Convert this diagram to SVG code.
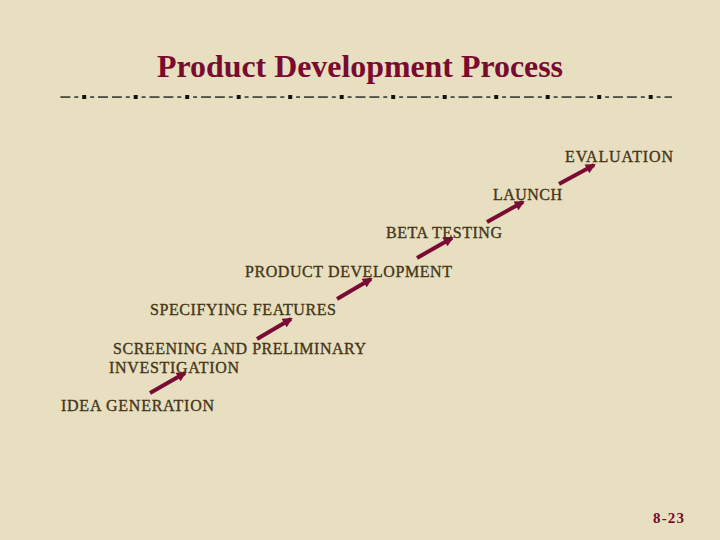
<svg xmlns="http://www.w3.org/2000/svg" width="720" height="540" viewBox="0 0 720 540">
<defs>
<style>
.bg{fill:#e7dfbf}
.title{font-family:"Liberation Serif","Times New Roman",serif;font-weight:bold;font-size:31px;fill:#7a0b30}
.lbl{font-family:"Liberation Serif","Times New Roman",serif;font-size:16px;fill:#45351a;stroke:#45351a;stroke-width:0.35}
.pg{font-family:"Liberation Serif","Times New Roman",serif;font-weight:bold;font-size:15px;fill:#7a0b30}
.arr{stroke:#7a0b35;stroke-width:4;fill:none;marker-end:url(#ah)}
</style>
<marker id="ah" viewBox="0 0 10 10" refX="8" refY="5" markerUnits="userSpaceOnUse" markerWidth="11" markerHeight="10" orient="auto">
<path d="M0,0 L10,5 L0,10 Z" fill="#7a0b35"/>
</marker>
<pattern id="rule" patternUnits="userSpaceOnUse" x="82.2" y="94" width="51.5" height="6">
<rect x="0" y="1" width="4" height="4" fill="#111"/>
<rect x="7.9" y="2.4" width="4" height="1.3" fill="#111"/>
<rect x="15.8" y="2.4" width="10" height="1.3" fill="#111"/>
<rect x="29.7" y="2.4" width="10" height="1.3" fill="#111"/>
<rect x="43.6" y="2.4" width="4" height="1.3" fill="#111"/>
</pattern>
</defs>
<rect class="bg" x="0" y="0" width="720" height="540"/>
<g id="title">
<text class="title" x="157" y="77" textLength="406" lengthAdjust="spacingAndGlyphs">Product Development Process</text>
<rect x="60" y="94" width="612" height="6" fill="url(#rule)"/>
</g>
<g id="connectors">
<line class="arr" x1="150" y1="393" x2="185" y2="373"/>
<line class="arr" x1="257" y1="339" x2="291" y2="319"/>
<line class="arr" x1="337" y1="299" x2="371" y2="279"/>
<line class="arr" x1="417" y1="258" x2="452" y2="238"/>
<line class="arr" x1="487" y1="222" x2="523" y2="202"/>
<line class="arr" x1="559" y1="184" x2="594" y2="165"/>
</g>
<g id="idea-generation"><text class="lbl" x="61" y="411" textLength="153">IDEA GENERATION</text></g>
<g id="screening">
<text class="lbl" x="113" y="354" textLength="253">SCREENING AND PRELIMINARY</text>
<text class="lbl" x="109" y="373" textLength="130">INVESTIGATION</text>
</g>
<g id="specifying-features"><text class="lbl" x="150" y="315" textLength="186">SPECIFYING FEATURES</text></g>
<g id="product-development"><text class="lbl" x="245" y="277" textLength="207">PRODUCT DEVELOPMENT</text></g>
<g id="beta-testing"><text class="lbl" x="386" y="238" textLength="116">BETA TESTING</text></g>
<g id="launch"><text class="lbl" x="493" y="200" textLength="69">LAUNCH</text></g>
<g id="evaluation"><text class="lbl" x="565" y="162" textLength="108">EVALUATION</text></g>
<g id="page"><text class="pg" x="653" y="523" textLength="31">8-23</text></g>
</svg>
